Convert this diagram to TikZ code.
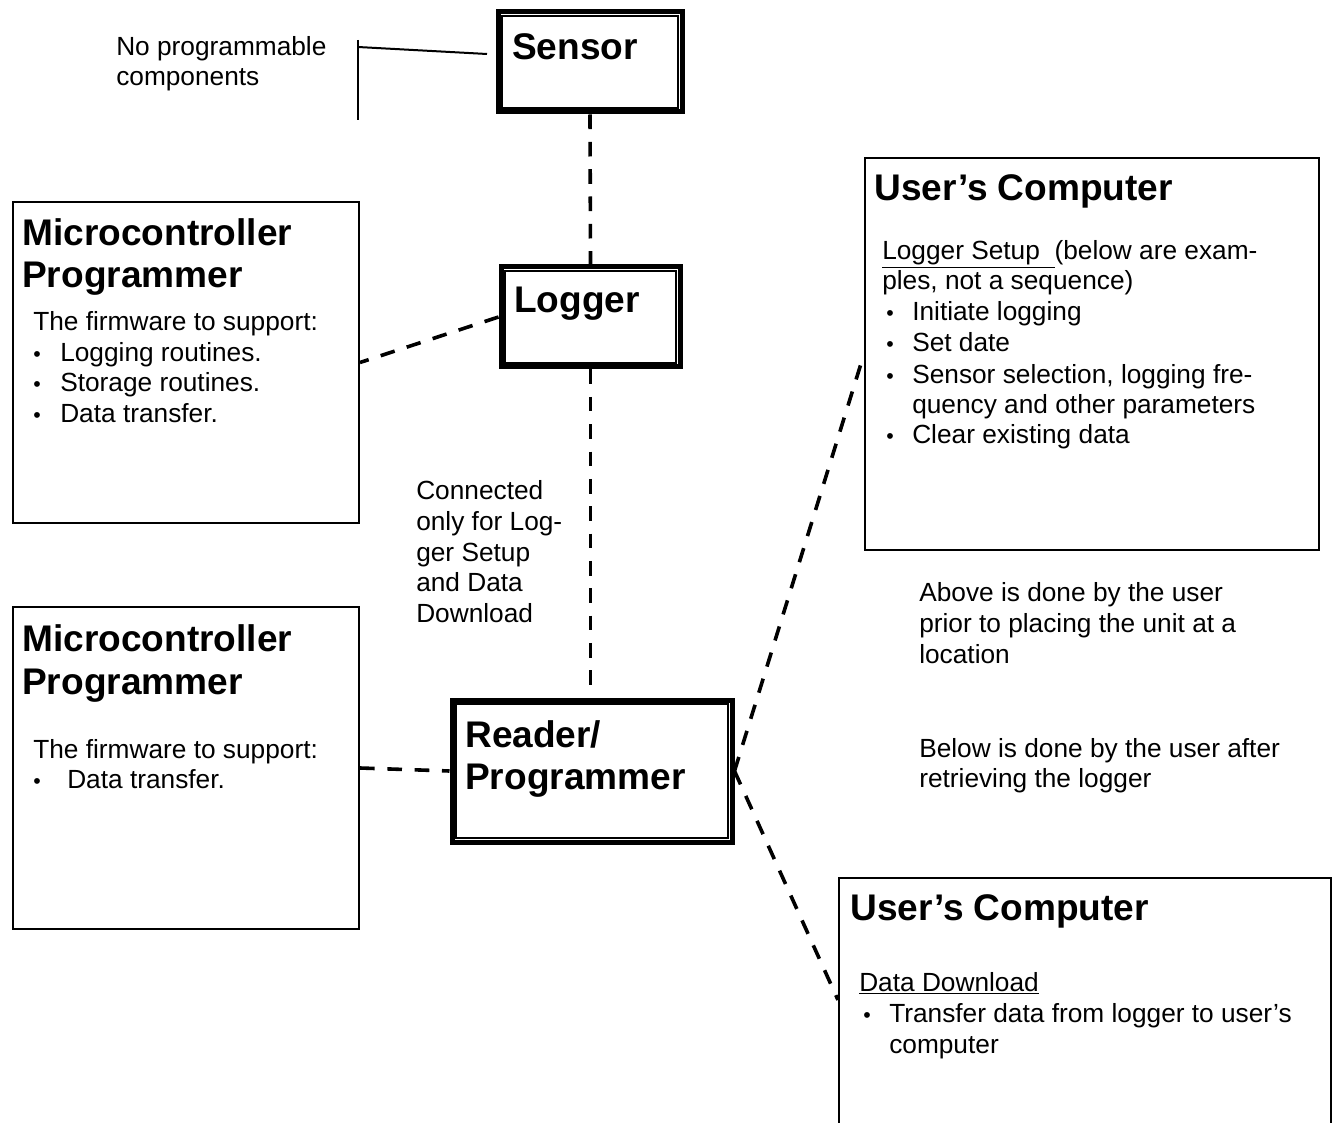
\documentclass[tikz,border=0pt]{standalone}
\usepackage{fontspec}
\setmainfont{Liberation Sans}
\newcommand\itemdot[1]{\makebox[#1][l]{\fontsize{16}{16}\selectfont •}}
\begin{document}
\begin{tikzpicture}[x=0.75pt,y=-0.75pt,
  bodytxt/.style={anchor=base west,inner sep=0pt,font=\fontsize{19.7}{23}\selectfont},
  titletxt/.style={anchor=base west,inner sep=0pt,font=\fontsize{27.8}{31.5}\selectfont\bfseries},
  plainbox/.style={draw,line width=1.5pt,anchor=north west,inner sep=0pt},
  dblbox/.style={draw,line width=3.75pt,anchor=north west,inner sep=0pt},
  innerline/.style={draw,line width=1.1pt},
  link/.style={line width=2.7pt,dash pattern=on 11pt off 9.5pt},
  callout/.style={line width=1.5pt}]
\useasboundingbox (0,0) rectangle (1336,1123);

% boxes
\node[dblbox,minimum width=138pt,minimum height=75pt] (sensor) at (495.5,9.5) {};
\node[dblbox,minimum width=134.25pt,minimum height=75pt] (logger) at (498.5,264.5) {};
\node[dblbox,minimum width=210pt,minimum height=106.5pt] (reader) at (449.5,697.5) {};
\foreach \b in {sensor,logger,reader}
  \draw[innerline] ([shift={(6.5,6.5)}]\b.north west) rectangle ([shift={(-6.5,-6.5)}]\b.south east);
\node[plainbox,minimum width=259.5pt,minimum height=240.75pt] (micro1) at (12,201) {};
\node[plainbox,minimum width=259.5pt,minimum height=241.5pt] (micro2) at (12,606) {};
\node[plainbox,minimum width=340.5pt,minimum height=294pt] (user1) at (864,157) {};
\node[plainbox,minimum width=369pt,minimum height=210pt] (user2) at (838,877) {};

% connectors
\draw[link] (sensor.south) -- (logger.north);
\draw[link] (logger.west) -- (micro1.east);
\draw[link] (logger.south) -- (logger.south |- reader.north);
\draw[link] (micro2.east) -- (reader.west);
\draw[link] (reader.east) -- (user1.west);
\coordinate (u2in) at (838,1000);
\draw[link] (reader.east) -- (u2in);

% callout bracket
\coordinate (bt) at (358,40);
\coordinate (bb) at (358,120);
\coordinate (bm) at (358,47);
\coordinate (ce) at (487,54);
\draw[callout] (bt) -- (bb);
\draw[callout] (bm) -- (ce);

% titles
\node[titletxt] (tsensor) at (512,60) {Sensor};
\node[titletxt] (tlogger) at (514,313) {Logger};
\node[titletxt] (treader1) at (465,747) {Reader/};
\node[titletxt] (treader2) at (465,789) {Programmer};
\node[titletxt] (tm1a) at (22,246) {Microcontroller};
\node[titletxt] (tm1b) at (22,288) {Programmer};
\node[titletxt] (tm2a) at (22,651) {Microcontroller};
\node[titletxt] (tm2b) at (22,694) {Programmer};
\node[titletxt] (tu1) at (874,201) {User’s Computer};
\node[titletxt] (tu2) at (850,920) {User’s Computer};

% free text
\node[bodytxt] (np1) at (116,56) {No programmable};
\node[bodytxt] (np2) at (116,86) {components};
\node[bodytxt] (c1) at (416,499) {Connected};
\node[bodytxt] (c2) at (416,530) {only for Log-};
\node[bodytxt] (c3) at (416,561) {ger Setup};
\node[bodytxt] (c4) at (416,591) {and Data};
\node[bodytxt] (c5) at (416,622) {Download};
\node[bodytxt] (ab1) at (919,601) {Above is done by the user};
\node[bodytxt] (ab2) at (919,632) {prior to placing the unit at a};
\node[bodytxt] (ab3) at (919,663) {location};
\node[bodytxt] (be1) at (919,757) {Below is done by the user after};
\node[bodytxt] (be2) at (919,787) {retrieving the logger};

% micro 1 content
\node[bodytxt] (m1f) at (33,331) {The firmware to support:};
\node[bodytxt] (m1a) at (33,362) {\itemdot{20.25pt}Logging routines.};
\node[bodytxt] (m1b) at (33,392) {\itemdot{20.25pt}Storage routines.};
\node[bodytxt] (m1c) at (33,422) {\itemdot{20.25pt}Data transfer.};

% micro 2 content
\node[bodytxt] (m2f) at (33,758) {The firmware to support:};
\node[bodytxt] (m2a) at (33,788) {\itemdot{25.5pt}Data transfer.};

% user 1 content
\node[bodytxt] (u1h) at (882,260) {\underline{Logger Setup\ \ }(below are exam-};
\node[bodytxt] (u1h2) at (882,290) {ples, not a sequence)};
\node[bodytxt] (u1a) at (886,321) {\itemdot{19.5pt}Initiate logging};
\node[bodytxt] (u1b) at (886,352) {\itemdot{19.5pt}Set date};
\node[bodytxt] (u1c) at (886,383) {\itemdot{19.5pt}Sensor selection, logging fre-};
\node[bodytxt] (u1c2) at (912,413) {quency and other parameters};
\node[bodytxt] (u1d) at (886,444) {\itemdot{19.5pt}Clear existing data};

% user 2 content
\node[bodytxt] (u2h) at (859,991) {\underline{Data Download}};
\node[bodytxt] (u2a) at (863,1022) {\itemdot{19.5pt}Transfer data from logger to user’s};
\node[bodytxt] (u2a2) at (889,1053) {computer};
\end{tikzpicture}
\end{document}
